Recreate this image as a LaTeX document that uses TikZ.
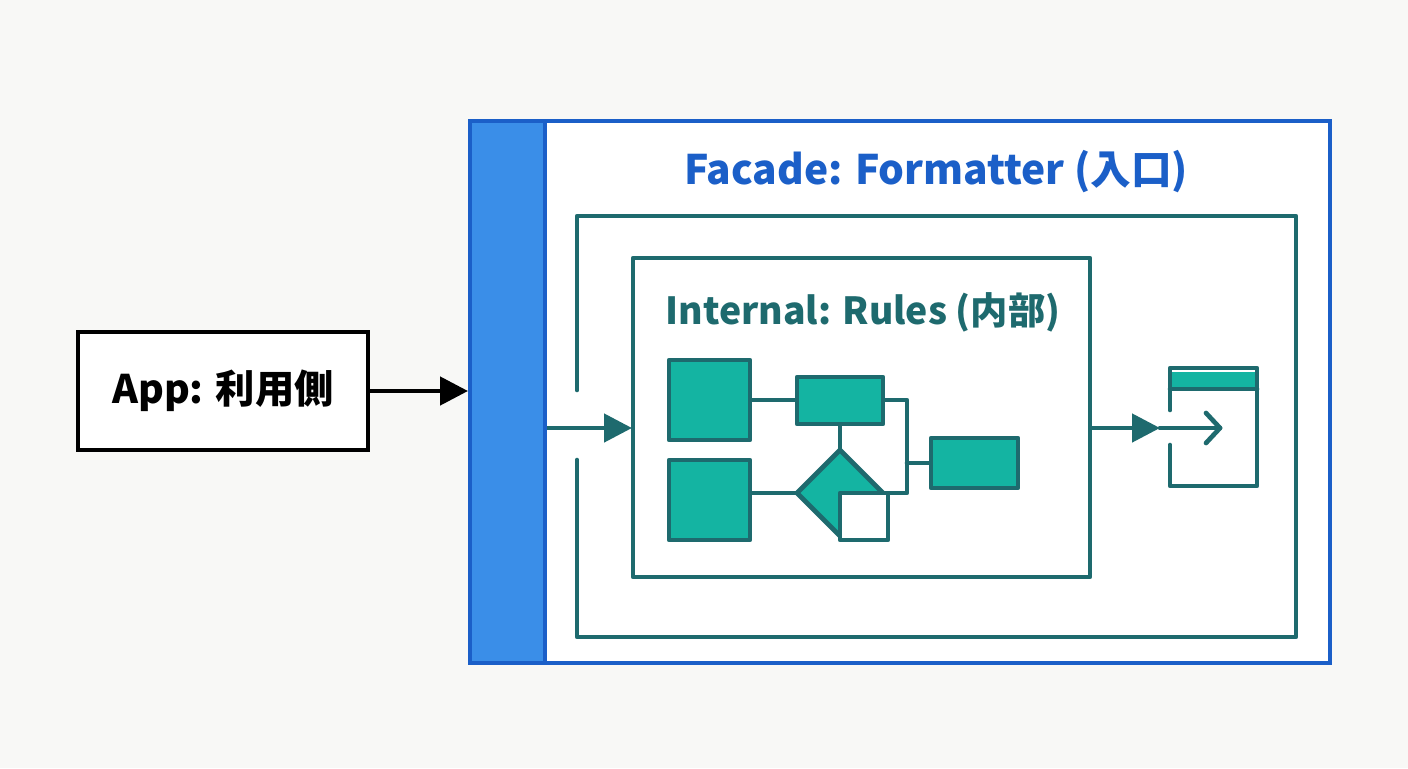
\documentclass[tikz,border=0pt]{standalone}
\usepackage{fontspec}
\setmainfont{Noto Sans CJK JP}
\usetikzlibrary{arrows.meta}
\definecolor{bg}{HTML}{F8F8F6}
\definecolor{fblue}{HTML}{1B5FC8}
\definecolor{band}{HTML}{3A8EE8}
\definecolor{tl}{HTML}{1E6A6E}
\definecolor{tfill}{HTML}{14B4A2}
\begin{document}
\begin{tikzpicture}[x=0.75pt,y=-0.75pt,
  tline/.style={draw=tl,line width=3.5pt,line cap=round,line join=round},
  tbox/.style={tline,fill=tfill},
  arr/.style={-{Triangle[length=21pt,width=21pt]}}]
\fill[bg] (0,0) rectangle (1408,768);
\useasboundingbox (0,0) rectangle (1408,768);
% app
\draw[line width=3.5pt,fill=white] (78,332) rectangle (368,450);
\node[font=\bfseries\fontsize{29.5}{32}\selectfont] (app) at (223,391) {App: 利用側};
\coordinate (appR) at (368,391);
\coordinate (faceL) at (468,391);
\draw[line width=3.5pt,arr] (appR) -- (faceL);
% facade
\draw[fblue,line width=3.5pt,fill=white] (470,121) rectangle (1330,663);
\draw[fblue,line width=3.5pt,fill=band] (470,121) rectangle (545,663);
\node[fblue,font=\bfseries\fontsize{30.5}{34}\selectfont] (ftitle) at (936,172) {Facade: Formatter (入口)};
% teal open frame
\draw[tline] (577,390) -- (577,216) -- (1296,216) -- (1296,637) -- (577,637) -- (577,460);
\coordinate (bandR) at (547,428);
\coordinate (innL) at (632,428);
\draw[tline,line cap=butt,arr] (bandR) -- (innL);
% inner
\draw[tline] (633,258) rectangle (1090,577);
\node[tl,font=\bfseries\fontsize{28}{32}\selectfont] (ititle) at (863,312) {Internal: Rules (内部)};
% flow chart
\draw[tline] (750,400) -- (797,400);
\draw[tline] (883,400) -- (907,400) -- (907,493) -- (880,493);
\draw[tline] (907,463) -- (931,463);
\draw[tline] (840,424) -- (840,450);
\draw[tline] (750,493) -- (798,493);
\node[tbox,minimum width=81*0.75pt,minimum height=80*0.75pt,inner sep=0] (b1) at (709.5,400) {};
\node[tbox,minimum width=86*0.75pt,minimum height=47*0.75pt,inner sep=0] (b2) at (840,400.5) {};
\node[tbox,minimum width=81*0.75pt,minimum height=80*0.75pt,inner sep=0] (b3) at (709.5,500) {};
\draw[tbox] (840,450) -- (883,493) -- (840,536) -- (797,493) -- cycle;
\draw[tline,fill=white] (840,493) rectangle (888,540);
\node[tbox,minimum width=87*0.75pt,minimum height=50*0.75pt,inner sep=0] (b4) at (974.5,463) {};
% output arrow & icon
\coordinate (innR) at (1092,428);
\coordinate (icoA) at (1160,428);
\draw[tline,line cap=butt,arr] (innR) -- (icoA);
\coordinate (icoB) at (1220,428);
\draw[tline] (icoA) -- (icoB);
\draw[tline] (1206,413) -- (1220,428) -- (1206,443);
\draw[tline] (1170,410) -- (1170,368) -- (1257,368) -- (1257,486) -- (1170,486) -- (1170,445);
\fill[tfill] (1172,372) rectangle (1255,388);
\draw[tline] (1170,389) -- (1257,389);
\end{tikzpicture}
\end{document}
